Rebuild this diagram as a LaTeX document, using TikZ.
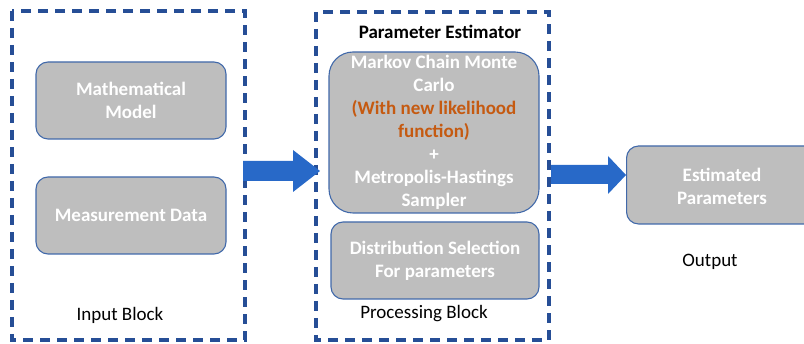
\documentclass[tikz,border=0pt]{standalone}
\usepackage{fontspec}
\setmainfont{Carlito}
\usetikzlibrary{shapes.arrows}
\definecolor{dashblue}{RGB}{38,78,150}
\definecolor{boxgray}{RGB}{190,190,190}
\definecolor{boxedge}{RGB}{65,105,170}
\definecolor{arrowblue}{RGB}{40,105,200}
\definecolor{orangetxt}{RGB}{197,90,17}
\tikzset{
  blockframe/.style={draw=dashblue, line width=3.4pt, dash pattern=on 10pt off 7pt},
  graybox/.style={draw=boxedge, line width=1.1pt, fill=boxgray, rounded corners=12pt,
    text=white, font=\fontsize{19}{23}\selectfont\bfseries, align=center, inner sep=0pt},
  label/.style={font=\fontsize{19}{23}\selectfont, text=black},
  bigarrow/.style={fill=arrowblue, draw=none}
}
\begin{document}
\begin{tikzpicture}[x=1pt,y=-1pt]
\useasboundingbox (0,0) rectangle (804,344);
\clip (0,0) rectangle (804,344);
% frames
\draw[blockframe] (12,11) rectangle (245,340);
\draw[blockframe] (316,12) rectangle (549,340);
% input boxes
\node[graybox, minimum width=190pt, minimum height=77pt] (mm) at (131,100.5) {Mathematical\\Model};
\node[graybox, minimum width=190pt, minimum height=77pt] (md) at (131,215.5) {Measurement Data};
\node[label] (inlab) at (120,315) {Input Block};
% processing
\node[label, font=\fontsize{19}{23}\selectfont\bfseries] (pe) at (440,32) {Parameter Estimator};
\node[graybox, rounded corners=24pt, minimum width=210pt, minimum height=161pt] (mcmc) at (434,132.5) {Markov Chain Monte\\Carlo\\\textcolor{orangetxt}{(With new likelihood}\\\textcolor{orangetxt}{function)}\\+\\Metropolis-Hastings\\Sampler};
\node[graybox, minimum width=208pt, minimum height=77pt] (ds) at (435,260.5) {Distribution Selection\\For parameters};
\node[label] (plab) at (424,314) {Processing Block};
% output
\node[graybox, minimum width=192pt, minimum height=78pt, anchor=west] (est) at (626,185) {};
\node[text=white, font=\fontsize{19}{23}\selectfont\bfseries, align=center] (esttxt) at (722,186) {Estimated\\Parameters};
\node[label] (olab) at (710,262) {Output};
% arrows
\fill[bigarrow] (243,161) -- (293,161) -- (293,150) -- (320,171) -- (293,192) -- (293,181) -- (243,181) -- cycle;
\fill[bigarrow] (551,165) -- (608,165) -- (608,156) -- (626,175) -- (608,194) -- (608,184) -- (551,184) -- cycle;
\end{tikzpicture}
\end{document}
